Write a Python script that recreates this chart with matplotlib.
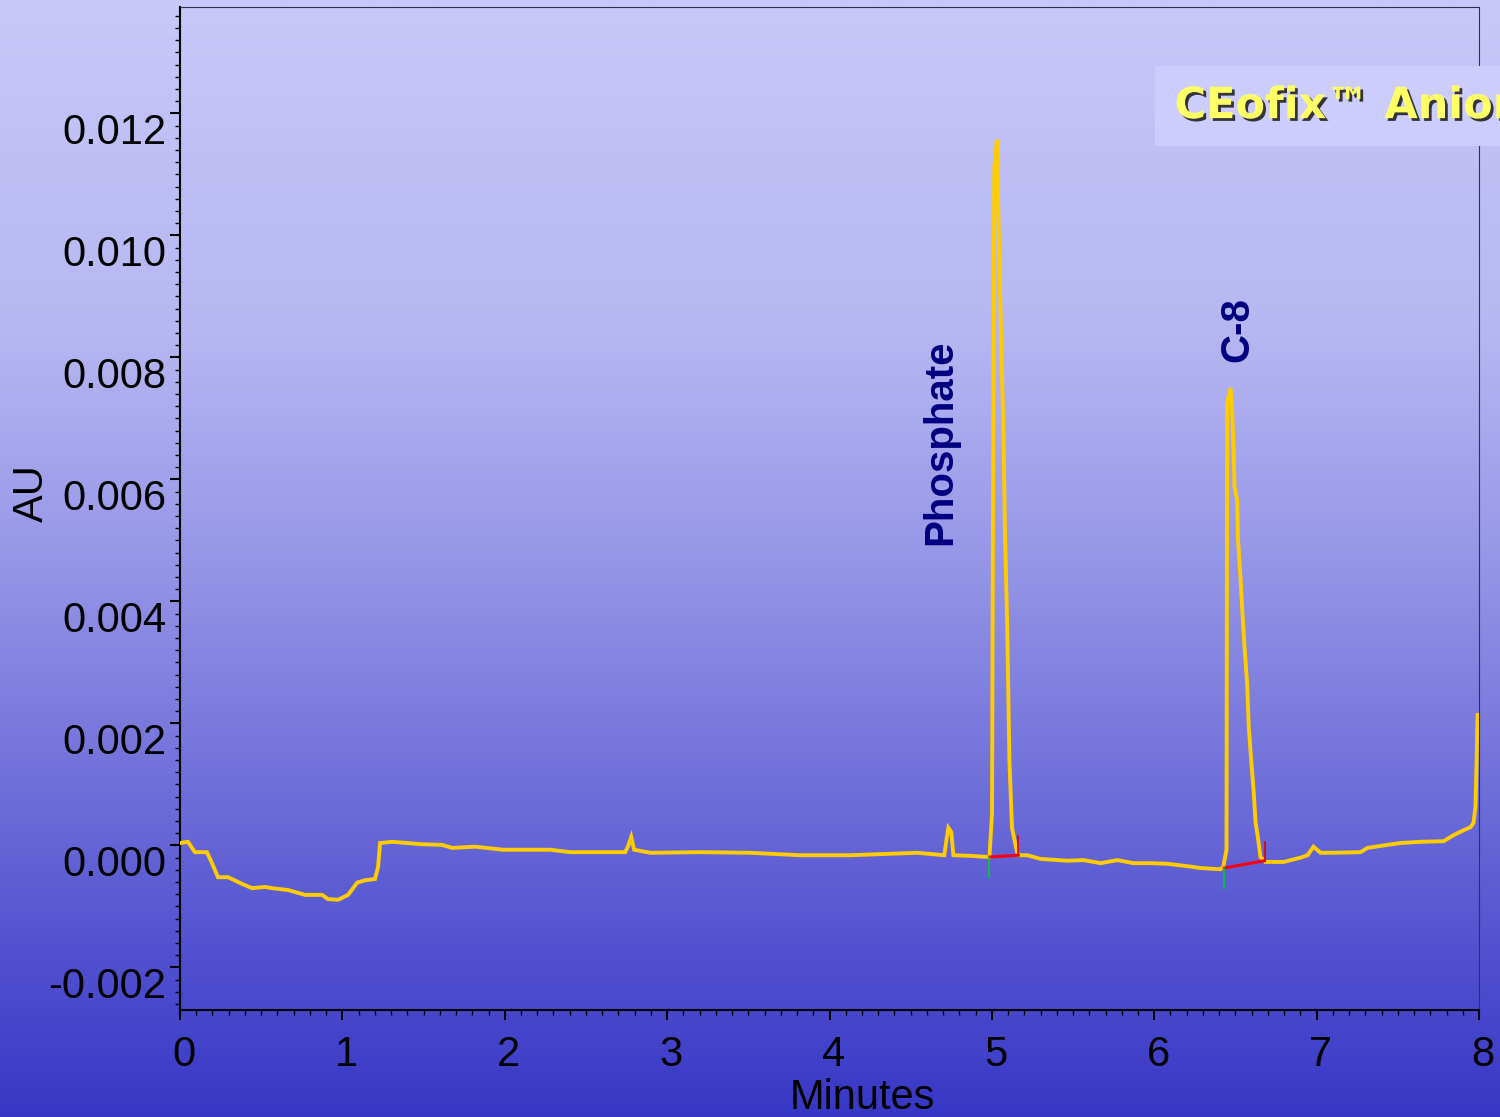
import numpy as np
import matplotlib
matplotlib.use("Agg")
import matplotlib.pyplot as plt
import matplotlib.transforms as mtransforms
import matplotlib.patheffects as pe
from matplotlib.ticker import MultipleLocator, FormatStrFormatter

# electropherogram trace (minutes, AU)
minutes = [0.000, 0.049, 0.092, 0.166, 0.197, 0.234, 0.296, 0.382, 0.444, 0.524,
           0.567, 0.665, 0.770, 0.875, 0.912, 0.974, 1.035, 1.091, 1.140, 1.201,
           1.220, 1.232, 1.306, 1.491, 1.614, 1.676, 1.818, 1.990, 2.280, 2.403,
           2.742, 2.760, 2.779, 2.797, 2.896, 3.204, 3.512, 3.820, 4.128, 4.541,
           4.707, 4.720, 4.732, 4.750, 4.763, 4.868, 4.985,
           5.001, 5.005, 5.011, 5.015, 5.031, 5.040, 5.057, 5.071, 5.081, 5.094,
           5.108, 5.124, 5.155, 5.163, 5.219, 5.299, 5.465, 5.564, 5.669, 5.773,
           5.872, 5.977, 6.081, 6.205, 6.285, 6.408,
           6.425, 6.445, 6.449, 6.470, 6.480, 6.490, 6.494, 6.511, 6.515, 6.531,
           6.542, 6.556, 6.572, 6.582, 6.597, 6.613, 6.624, 6.638, 6.654, 6.685,
           6.796, 6.901, 6.944, 6.981, 7.024, 7.104, 7.270, 7.313, 7.437, 7.517,
           7.640, 7.782, 7.844, 7.905, 7.948, 7.966, 7.978, 7.985, 7.991]
au = [0.00004, 0.00006, -0.00011, -0.00011, -0.00029, -0.00052, -0.00052, -0.00063, -0.00070, -0.00068,
      -0.00070, -0.00073, -0.00081, -0.00081, -0.00088, -0.00089, -0.00081, -0.00061, -0.00057, -0.00055,
      -0.00035, 0.00004, 0.00006, 0.00002, 0.00001, -0.00004, -0.00002, -0.00007, -0.00007, -0.00011,
      -0.00011, -0.00001, 0.00014, -0.00007, -0.00012, -0.00011, -0.00012, -0.00016, -0.00016, -0.00012,
      -0.00016, 0.00009, 0.00029, 0.00022, -0.00016, -0.00017, -0.00019,
      0.00053, 0.00406, 0.00876, 0.01111, 0.01157, 0.01032, 0.00829, 0.00680, 0.00507, 0.00366,
      0.00139, 0.00029, -0.00011, -0.00016, -0.00016, -0.00022, -0.00025, -0.00024, -0.00029, -0.00024,
      -0.00029, -0.00029, -0.00030, -0.00034, -0.00037, -0.00039,
      -0.00035, -0.00007, 0.00725, 0.00750, 0.00709, 0.00637, 0.00588, 0.00566, 0.00506, 0.00440,
      0.00386, 0.00325, 0.00266, 0.00194, 0.00140, 0.00086, 0.00037, 0.00014, -0.00019, -0.00027,
      -0.00027, -0.00020, -0.00016, -0.00002, -0.00012, -0.00012, -0.00011, -0.00004, 0.00001, 0.00004,
      0.00006, 0.00007, 0.00017, 0.00025, 0.00030, 0.00037, 0.00063, 0.00135, 0.00214]

# integration baselines: start (t, AU), end (t, AU), green drop, red drop
peak_names = ["Phosphate", "C-8"]
peak_label_pos = [(4.683, 0.00493), (6.513, 0.00793)]
base_start = [(4.985, -0.00019), (6.431, -0.00037)]
base_end = [(5.163, -0.00016), (6.679, -0.00025)]
start_mark_low = [-0.00052, -0.00070]
end_mark_high = [0.00016, 0.00006]

fig = plt.figure(figsize=(15, 11.17), dpi=100)

# gradient background over the whole figure
bg = fig.add_axes([0, 0, 1, 1], zorder=-10)
stops = np.array([0.0, 0.3, 0.5, 0.7, 0.85, 1.0])
cols = np.array([[200, 200, 250], [182, 182, 242], [150, 150, 232],
                 [112, 112, 218], [82, 82, 208], [55, 55, 198]]) / 255.0
yy = np.linspace(0, 1, 512)
grad = np.stack([np.interp(yy, stops, cols[:, i]) for i in range(3)], axis=1)
bg.imshow(grad[:, None, :], aspect='auto', extent=[0, 1, 1, 0])
bg.set_axis_off()

ax = fig.add_axes([0.12, 0.0958, 0.866, 0.898])
ax.set_facecolor('none')

ax.plot(minutes, au, color='#ffcc00', lw=2.8, zorder=3, solid_joinstyle='miter')

for i in range(len(peak_names)):
    (x0, y0), (x1, y1) = base_start[i], base_end[i]
    ax.plot([x0, x1], [y0, y1], color='#ff0000', lw=2.2, zorder=4)
    ax.plot([x0, x0], [y0, start_mark_low[i]], color='#00cc33', lw=1.2, zorder=4)
    ax.plot([x1, x1], [y1, end_mark_high[i]], color='#dd0000', lw=1.2, zorder=4)
    ax.text(peak_label_pos[i][0], peak_label_pos[i][1], peak_names[i], rotation=90,
            ha='center', va='bottom', color='#000080', fontsize=29, fontweight='bold',
            family='Liberation Sans')

ax.set_xlim(0, 8)
ax.set_ylim(-0.002697, 0.013746)
ax.xaxis.set_major_locator(MultipleLocator(1))
ax.xaxis.set_minor_locator(MultipleLocator(0.1))
ax.yaxis.set_major_locator(MultipleLocator(0.002))
ax.yaxis.set_minor_locator(MultipleLocator(0.0002))
ax.yaxis.set_major_formatter(FormatStrFormatter('%.3f'))

ax.tick_params(which='major', length=7, width=1.5, color='black')
ax.tick_params(which='minor', length=3.5, width=1, color='black')
ax.tick_params(axis='y', which='major', labelsize=30, pad=3)
ax.tick_params(axis='x', which='major', labelsize=30, pad=11)
for lab in ax.get_xticklabels() + ax.get_yticklabels():
    lab.set_family('Liberation Sans')

# labels sit a little off their ticks in the original
dy = mtransforms.ScaledTranslation(0, -0.15, fig.dpi_scale_trans)
for lab in ax.get_yticklabels():
    lab.set_transform(lab.get_transform() + dy)
dx = mtransforms.ScaledTranslation(0.04, 0, fig.dpi_scale_trans)
for lab in ax.get_xticklabels():
    lab.set_transform(lab.get_transform() + dx)

ax.spines['left'].set_linewidth(1.5)
ax.spines['bottom'].set_linewidth(1.5)
ax.spines['top'].set_color('#303050')
ax.spines['right'].set_color('#303050')

fig.text(0.5747, -0.001, 'Minutes', ha='center', va='bottom', fontsize=30,
         family='Liberation Sans')
fig.text(0.021, 0.559, 'AU', rotation=90, ha='center', va='center', fontsize=30,
         family='Liberation Sans')

fig.text(0.783, 0.905, 'CEofix\u2122 Anions', ha='left', va='center', fontsize=31,
         fontweight='bold', color='#ffff66', family='DejaVu Sans',
         path_effects=[pe.withSimplePatchShadow(offset=(2, -2), shadow_rgbFace='#222222', alpha=0.9)],
         bbox=dict(boxstyle='square,pad=0.45', facecolor='#ccccff', edgecolor='none'))

fig.savefig('out.png', dpi=100)
